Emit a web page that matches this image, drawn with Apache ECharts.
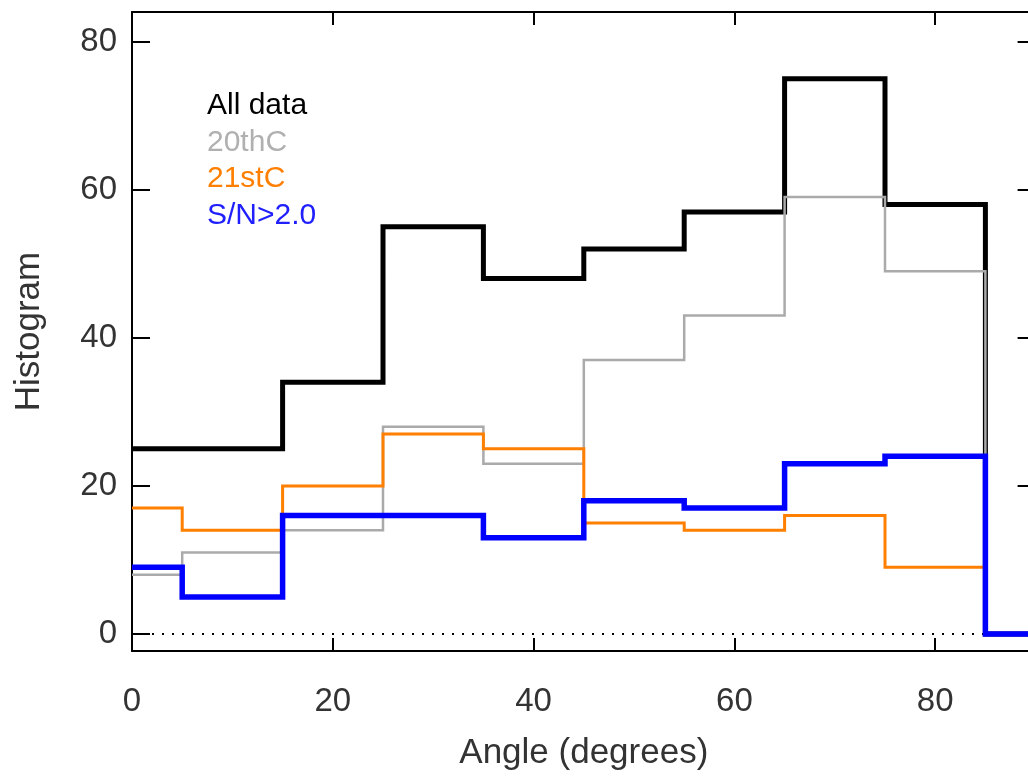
<!DOCTYPE html>
<html>
<head>
<meta charset="utf-8">
<script src="https://cdn.jsdelivr.net/npm/echarts@6/dist/echarts.min.js"></script>
<style>
html,body{margin:0;padding:0;background:#fff;overflow:hidden;width:1028px;height:777px;}
#c{width:1040px;height:777px;}
</style>
</head>
<body>
<div id="c"></div>
<script>
const angles = [0, 10, 20, 30, 40, 50, 60, 70, 80, 90];
const allData = [25, 25, 34, 55, 48, 52, 57, 75, 58, 0];
const c20 = [8, 11, 14, 28, 23, 37, 43, 59, 49, 0];
const c21 = [17, 14, 20, 27, 25, 15, 14, 16, 9, 0];
const snr = [9, 5, 16, 16, 13, 18, 17, 23, 24, 0];
const xTicks = [0, 20, 40, 60, 80];
const yTicks = [0, 20, 40, 60, 80];
const legendNames = ['All data', '20thC', '21stC', 'S/N>2.0'];
const colors = ['#000000', '#aaaaaa', '#ff7f00', '#0000ff'];
const widths = [5, 2.5, 3, 5.5];
const seriesValues = [allData, c20, c21, snr];

const FONT = '"Liberation Sans", Arial, Helvetica, sans-serif';
const chart = echarts.init(document.getElementById('c'));

const pairs = vals => angles.map((a, i) => [a, vals[i]]);

const series = seriesValues.map((vals, k) => ({
  type: 'line',
  name: legendNames[k],
  step: 'middle',
  data: pairs(vals),
  symbol: 'none',
  lineStyle: { color: colors[k], width: widths[k], join: 'miter', cap: 'butt' },
  z: 3 + k
}));
series.unshift({
  type: 'line',
  data: [[0, 0], [90, 0]],
  symbol: 'none',
  silent: true,
  lineStyle: { color: '#000', width: 2, type: [2, 8] },
  z: 2
});

const axisLine = { show: true, onZero: false, lineStyle: { color: '#000', width: 2 } };

chart.setOption({
  animation: false,
  backgroundColor: '#fff',
  grid: { left: 132, right: 4.4, top: 12, bottom: 126, containLabel: false },
  xAxis: [{
    type: 'value', min: 0, max: 90, position: 'bottom',
    axisLine: axisLine,
    axisTick: { show: true, inside: true, length: 13, customValues: xTicks, lineStyle: { color: '#000', width: 2 } },
    axisLabel: { show: true, customValues: xTicks, margin: 34, fontSize: 33, fontFamily: FONT, color: '#333' },
    splitLine: { show: false },
    name: 'Angle (degrees)', nameLocation: 'middle', nameGap: 85,
    nameTextStyle: { fontSize: 35, fontFamily: FONT, color: '#333' }
  }, {
    type: 'value', min: 0, max: 90, position: 'top',
    axisLine: axisLine,
    axisTick: { show: true, inside: true, length: 13, customValues: xTicks, lineStyle: { color: '#000', width: 2 } },
    axisLabel: { show: false },
    splitLine: { show: false }
  }],
  yAxis: [{
    type: 'value', min: -2.3, max: 84, position: 'left',
    axisLine: axisLine,
    axisTick: { show: true, inside: true, length: 18, customValues: yTicks, lineStyle: { color: '#000', width: 2 } },
    axisLabel: { show: true, customValues: yTicks, margin: 15, fontSize: 33, fontFamily: FONT, color: '#333' },
    splitLine: { show: false },
    name: 'Histogram', nameLocation: 'middle', nameGap: 85, nameRotate: 90,
    nameTextStyle: { fontSize: 35, fontFamily: FONT, color: '#333' }
  }, {
    type: 'value', min: -2.3, max: 84, position: 'right',
    axisLine: axisLine,
    axisTick: { show: true, inside: true, length: 18, customValues: yTicks, lineStyle: { color: '#000', width: 2 } },
    axisLabel: { show: false },
    splitLine: { show: false }
  }],
  graphic: legendNames.map((n, k) => ({
    type: 'text', x: 207, y: 106 + k * 36.6,
    style: { text: n, fill: k === 1 ? '#b0b0b0' : (k === 3 ? '#2020ff' : colors[k]), fontSize: 30, fontFamily: FONT, verticalAlign: 'middle', align: 'left' }
  })),
  series: series
});
</script>
</body>
</html>
